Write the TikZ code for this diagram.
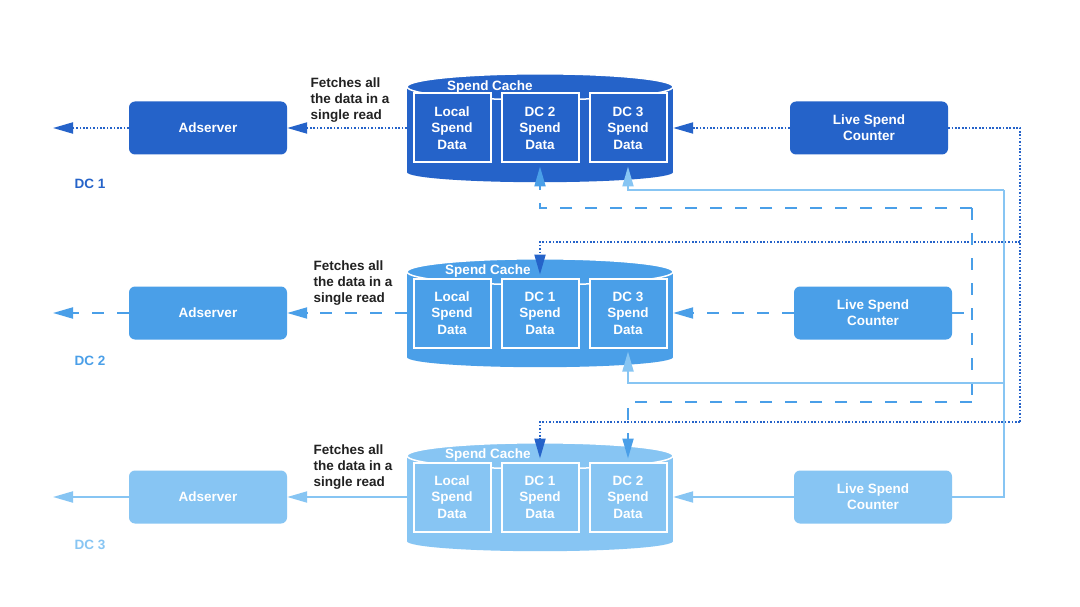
\documentclass[tikz,border=0pt]{standalone}
\usepackage{fontspec}
\setmainfont{Liberation Sans}
\usetikzlibrary{positioning, arrows.meta, calc}
\definecolor{dcDark}{HTML}{2563C9}
\definecolor{dcMid}{HTML}{4A9FE8}
\definecolor{dcLight}{HTML}{87C5F3}
\definecolor{noteGrey}{HTML}{222222}
\tikzset{
  font=\fontsize{13.5}{16}\selectfont\bfseries,
  server/.style={rectangle, rounded corners=6pt, minimum width=158pt, minimum height=53pt, text=white, align=center},
  cell/.style={rectangle, draw=white, line width=2pt, minimum width=77pt, minimum height=69pt, text=white, align=center, font=\fontsize{13.5}{16.5}\selectfont\bfseries},
  cache/.style={rectangle, minimum width=266pt, minimum height=88pt, inner sep=0pt},
  lid/.style={draw=white, line width=1.5pt},
  note/.style={text=noteGrey, align=left, anchor=west},
  dclabel/.style={anchor=west},
  tip/.style={-{Triangle[length=20pt, width=11pt]}},
  dotline/.style={line width=2pt, dash pattern=on 1.7pt off 1.7pt},
  dashline/.style={line width=2pt, dash pattern=on 12pt off 13pt},
  solidline/.style={line width=2pt}
}

\begin{document}
\begin{tikzpicture}[x=1pt, y=-1pt]
    \fill[white] (0,0) rectangle (1080,607);
    \useasboundingbox (0,0) rectangle (1080,607);

    \node[server, fill=dcDark] (ads1) at (208,128) {Adserver};
    \node[server, fill=dcMid] (ads2) at (208,313) {Adserver};
    \node[server, fill=dcLight] (ads3) at (208,497) {Adserver};
    \node[dclabel, text=dcDark] (dc1) at (71,184) {DC 1};
    \node[dclabel, text=dcMid] (dc2) at (71,361) {DC 2};
    \node[dclabel, text=dcLight] (dc3) at (71,545) {DC 3};
    \node[note] (fetch1) at (307,100) {Fetches all\\the data in a\\single read};
    \node[note] (fetch2) at (310,283) {Fetches all\\the data in a\\single read};
    \node[note] (fetch3) at (310,467) {Fetches all\\the data in a\\single read};

    \node[cache] (cache1) at (540,128) {};
    \node[cache] (cache2) at (540,313) {};
    \node[cache] (cache3) at (540,497) {};
    \fill[dcDark] ([yshift=-3pt]cache1.north west) rectangle (cache1.south east);
    \fill[dcDark] (cache1.south) ellipse [x radius=133, y radius=10];
    \filldraw[dcDark, lid] ([yshift=-3pt]cache1.north) ellipse [x radius=133, y radius=13];
    \fill[dcMid] ([yshift=-3pt]cache2.north west) rectangle (cache2.south east);
    \fill[dcMid] (cache2.south) ellipse [x radius=133, y radius=10];
    \filldraw[dcMid, lid] ([yshift=-3pt]cache2.north) ellipse [x radius=133, y radius=13];
    \fill[dcLight] ([yshift=-3pt]cache3.north west) rectangle (cache3.south east);
    \fill[dcLight] (cache3.south) ellipse [x radius=133, y radius=10];
    \filldraw[dcLight, lid] ([yshift=-3pt]cache3.north) ellipse [x radius=133, y radius=13];
    \node[text=white] (title1) at (490,87) {Spend Cache};
    \node[text=white] (title2) at (488,271) {Spend Cache};
    \node[text=white] (title3) at (488,455) {Spend Cache};

    \node[cell, fill=dcDark] (c1loc) at (452,128) {Local\\Spend\\Data};
    \node[cell, fill=dcDark, right=9pt of c1loc] (c1dc2) {DC 2\\Spend\\Data};
    \node[cell, fill=dcDark, right=9pt of c1dc2] (c1dc3) {DC 3\\Spend\\Data};
    \node[cell, fill=dcMid] (c2loc) at (452,313) {Local\\Spend\\Data};
    \node[cell, fill=dcMid, right=9pt of c2loc] (c2dc1) {DC 1\\Spend\\Data};
    \node[cell, fill=dcMid, right=9pt of c2dc1] (c2dc3) {DC 3\\Spend\\Data};
    \node[cell, fill=dcLight] (c3loc) at (452,497) {Local\\Spend\\Data};
    \node[cell, fill=dcLight, right=9pt of c3loc] (c3dc1) {DC 1\\Spend\\Data};
    \node[cell, fill=dcLight, right=9pt of c3dc1] (c3dc2) {DC 2\\Spend\\Data};

    \node[server, fill=dcDark] (count1) at (869,128) {Live Spend\\Counter};
    \node[server, fill=dcMid] (count2) at (873,313) {Live Spend\\Counter};
    \node[server, fill=dcLight] (count3) at (873,497) {Live Spend\\Counter};

    \coordinate (out1) at (53,128);
    \coordinate (out2) at (53,313);
    \coordinate (out3) at (53,497);
    \coordinate (dotTop) at (1020,242);
    \coordinate (dotLow) at (1020,422);
    \coordinate (dashTop) at (972,208);
    \coordinate (dashLow) at (972,402);
    \coordinate (solidTop) at (1004,190);
    \coordinate (solidMid) at (1004,383);

    \draw[dcDark, dotline, tip] (ads1) -- (out1);
    \draw[dcDark, dotline, tip] (cache1.west) -- (ads1);
    \draw[dcDark, dotline, tip] (count1) -- (cache1.east);
    \draw[dcDark, dotline] (count1) -| (dotLow);
    \draw[dcDark, dotline, tip, shorten >=3pt] (dotTop) -| (c2dc1);
    \draw[dcDark, dotline, tip, shorten >=3pt] (dotLow) -| (c3dc1);

    \draw[dcMid, dashline, tip] (ads2) -- (out2);
    \draw[dcMid, dashline, tip] (cache2.west) -- (ads2);
    \draw[dcMid, dashline, tip] (count2) -- (cache2.east);
    \draw[dcMid, dashline] (count2.east) -- (count2.east -| dashTop);
    \draw[dcMid, dashline] (dashTop) -- (dashLow);
    \draw[dcMid, dashline, tip, shorten >=3pt] (dashTop) -| (c1dc2);
    \draw[dcMid, dashline, tip, shorten >=3pt] (dashLow) -| (c3dc2);

    \draw[dcLight, solidline, tip] (ads3) -- (out3);
    \draw[dcLight, solidline, tip] (cache3.west) -- (ads3);
    \draw[dcLight, solidline, tip] (count3) -- (cache3.east);
    \draw[dcLight, solidline] (count3) -| (solidTop);
    \draw[dcLight, solidline, tip, shorten >=3pt] (solidTop) -| (c1dc3);
    \draw[dcLight, solidline, tip, shorten >=3pt] (solidMid) -| (c2dc3);
\end{tikzpicture}
\end{document}
